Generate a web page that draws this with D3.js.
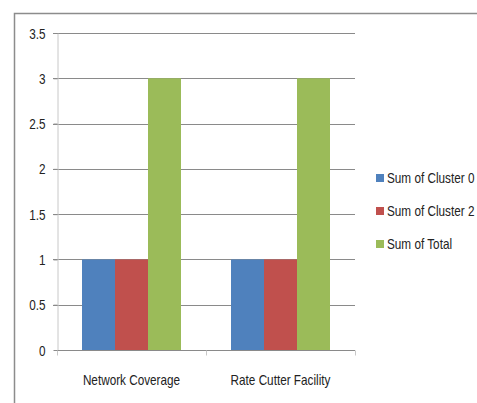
<!DOCTYPE html>
<html><head><meta charset="utf-8">
<script src="https://cdn.jsdelivr.net/npm/d3@7"></script>
<style>body{margin:0;background:#fff}svg{display:block}</style>
</head><body>
<script>
const categories = ["Network Coverage", "Rate Cutter Facility"];
const seriesNames = ["Sum of Cluster 0", "Sum of Cluster 2", "Sum of Total"];
const cluster0 = [1, 1];
const cluster2 = [1, 1];
const total = [3, 3];
const yTicks = [0, 0.5, 1, 1.5, 2, 2.5, 3, 3.5];
const colors = ["#4F81BD", "#C0504D", "#9BBB59"];

(function () {
const seriesValues = [cluster0, cluster2, total];
const W = 477, H = 403;
const font = "'Liberation Sans', Arial, sans-serif";
const SX = 0.84;
const svg = d3.select("body").append("svg").attr("width", W).attr("height", H);

svg.append("rect").attr("x", 14.5).attr("y", 13.5).attr("width", 600).attr("height", 500)
  .attr("fill", "none").attr("stroke", "#8c8c8c").attr("stroke-width", 1.5);

const mLeft = 57, mRight = 355, mTop = 33, mBottom = 350;
const x0 = d3.scaleBand().domain(categories).range([mLeft, mRight]).paddingInner(0).paddingOuter(0);
const x1 = d3.scaleBand().domain(seriesNames).range([25, x0.bandwidth() - 25]);
const y = d3.scaleLinear().domain([0, 3.5]).range([mBottom, mTop]);

// gridlines
svg.append("g").selectAll("line").data(yTicks.filter(d => d > 0)).join("line")
  .attr("x1", mLeft - 4).attr("x2", mRight).attr("y1", d => Math.round(y(d)) + 0.5).attr("y2", d => Math.round(y(d)) + 0.5)
  .attr("stroke", "#8a8a8a").attr("stroke-width", 1);

// bars
const groups = svg.append("g").selectAll("g").data(categories).join("g")
  .attr("transform", c => `translate(${x0(c)},0)`);
groups.selectAll("rect").data((c, i) => seriesNames.map((s, j) => ({s, v: seriesValues[j][i], j})))
  .join("rect")
  .attr("x", d => x1(d.s)).attr("width", x1.bandwidth())
  .attr("y", d => y(d.v)).attr("height", d => y(0) - y(d.v))
  .attr("fill", d => colors[d.j]);

// y axis
const yAxis = svg.append("g").attr("transform", `translate(${mLeft + 0.5},0)`)
  .call(d3.axisLeft(y).tickValues(yTicks).tickSize(4).tickSizeOuter(0).tickFormat(d => String(d)));
yAxis.select(".domain").attr("stroke", "#c8c8c8");
yAxis.selectAll(".tick line").attr("stroke", "#8a8a8a");
yAxis.selectAll(".tick text")
  .attr("x", 0).attr("dy", null).attr("y", 5)
  .attr("transform", `translate(-12,0) scale(${SX},1)`)
  .attr("font-family", font).attr("font-size", 14).attr("fill", "#222");

// x axis
const xAxis = svg.append("g").attr("transform", `translate(0,${mBottom + 0.5})`);
xAxis.append("line").attr("x1", mLeft).attr("x2", mRight).attr("stroke", "#8a8a8a");
const tickPos = [mLeft, ...categories.map(c => x0(c) + x0.bandwidth())];
xAxis.selectAll("line.t").data(tickPos).join("line").attr("class", "t")
  .attr("x1", d => Math.round(d) + 0.5).attr("x2", d => Math.round(d) + 0.5).attr("y1", 0).attr("y2", 5)
  .attr("stroke", "#c8c8c8");
xAxis.selectAll("text").data(categories).join("text")
  .attr("transform", c => `translate(${x0(c) + x0.bandwidth() / 2},34) scale(${SX},1)`)
  .attr("text-anchor", "middle").attr("font-family", font).attr("font-size", 14).attr("fill", "#222")
  .text(c => c);

// legend
const legend = svg.append("g").selectAll("g").data(seriesNames).join("g")
  .attr("transform", (d, i) => `translate(376,${178 + i * 33})`);
legend.append("rect").attr("x", 0).attr("y", -4).attr("width", 8).attr("height", 8).attr("fill", (d, i) => colors[i]);
legend.append("text").attr("transform", `translate(11,5) scale(${SX},1)`)
  .attr("font-family", font).attr("font-size", 14).attr("fill", "#222")
  .text(d => d);
})();
</script>
</body></html>
